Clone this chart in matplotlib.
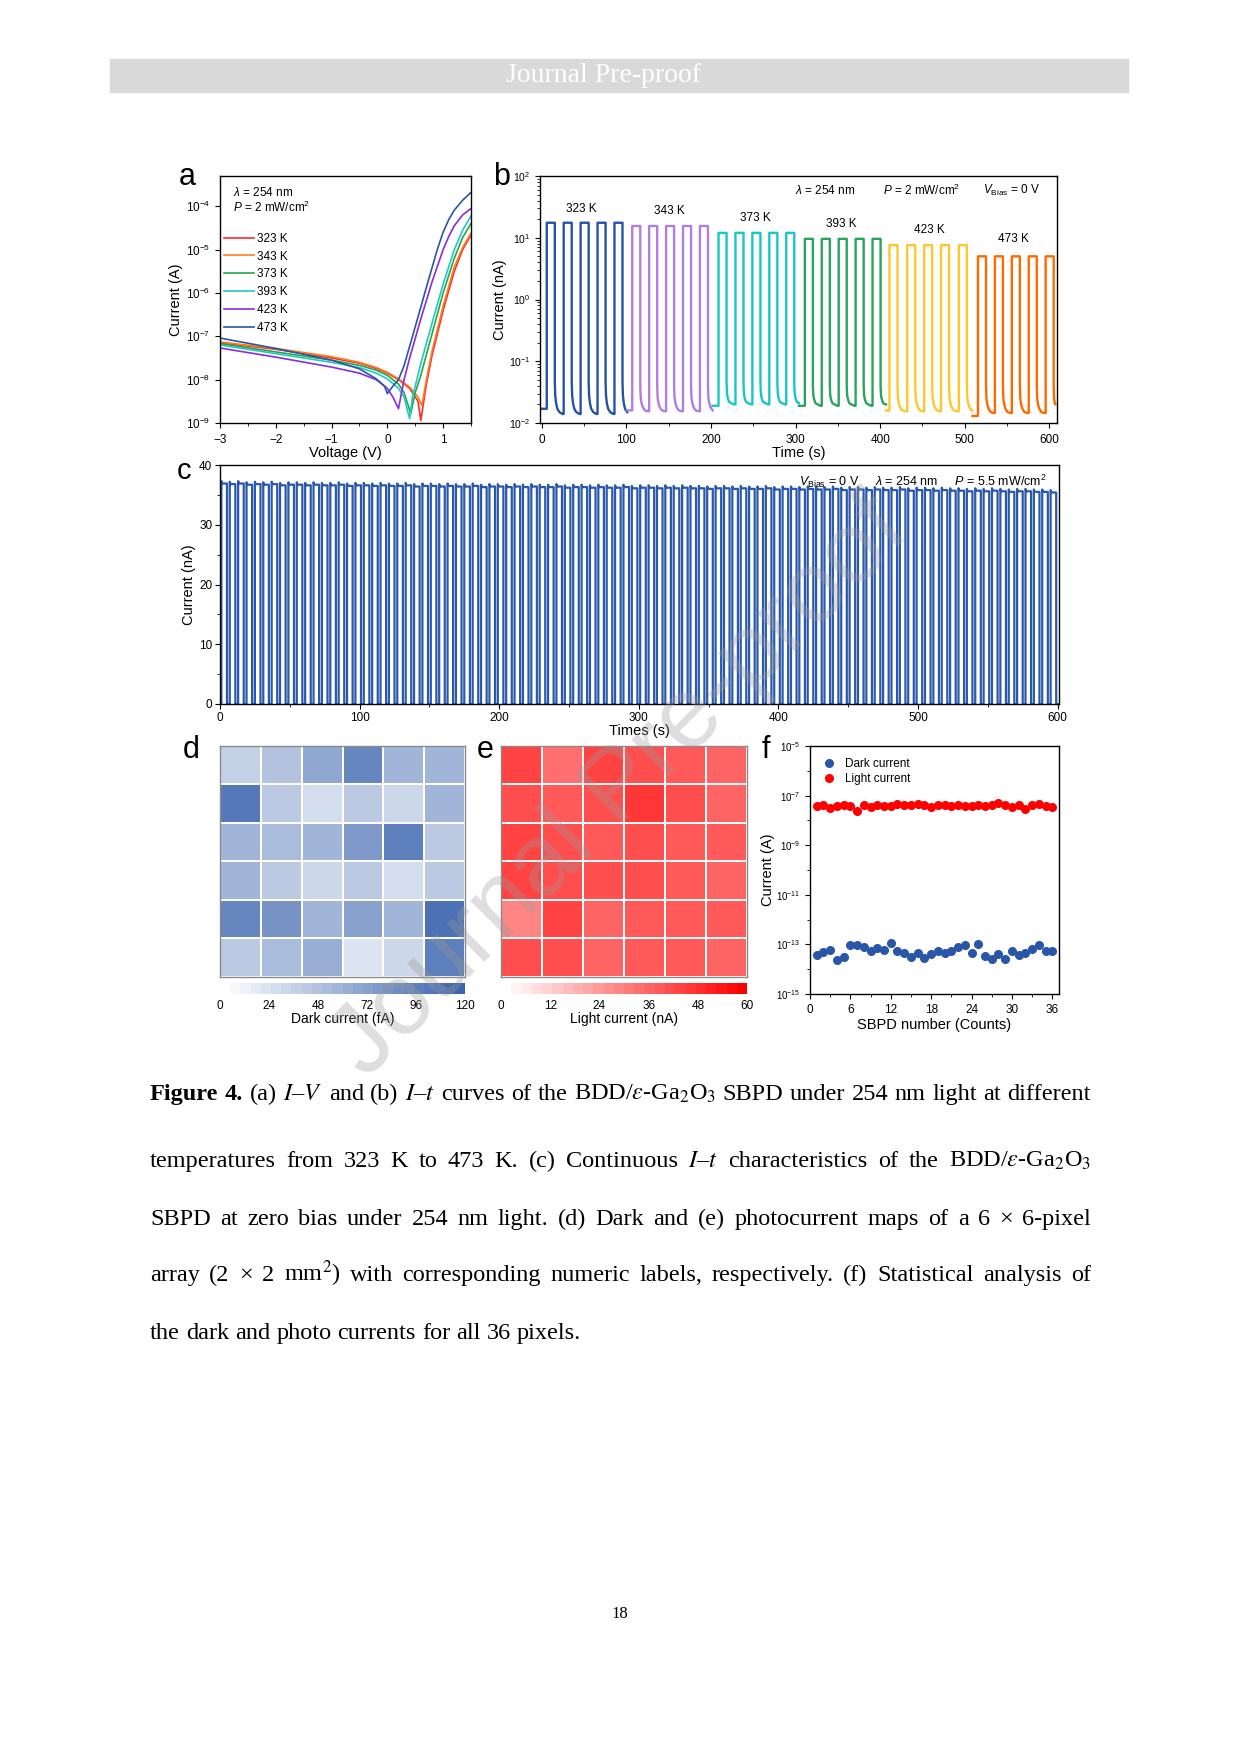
import numpy as np
import matplotlib
matplotlib.use('Agg')
import matplotlib.pyplot as plt
from matplotlib.colors import LinearSegmentedColormap
from matplotlib.patches import Rectangle
import matplotlib.ticker as mticker

plt.rcParams['font.family'] = ['Liberation Sans', 'DejaVu Sans']
plt.rcParams['mathtext.fontset'] = 'custom'
plt.rcParams['mathtext.rm'] = 'Liberation Sans'
plt.rcParams['mathtext.it'] = 'Liberation Sans:italic'
plt.rcParams['mathtext.bf'] = 'Liberation Sans:bold'
plt.rcParams['xtick.direction'] = 'out'
plt.rcParams['ytick.direction'] = 'out'
plt.rcParams['xtick.major.size'] = 3.5
plt.rcParams['ytick.major.size'] = 3.5
plt.rcParams['xtick.minor.size'] = 2
plt.rcParams['ytick.minor.size'] = 2
plt.rcParams['axes.linewidth'] = 1.0

# ---------------- data ----------------
# (a) I-V curves, log10(I / A)
iv_temps = ['323 K', '343 K', '373 K', '393 K', '423 K', '473 K']
iv_colors = ['#ff2a2a', '#ff7b1c', '#22a84b', '#1fc9c9', '#8a2be2', '#2a56a8']
V_323 = [-3, -2, -1, -0.5, -0.2, 0.0, 0.2, 0.4, 0.55, 0.6, 0.7, 0.8, 1.0, 1.1, 1.2, 1.35, 1.5]
I_323 = [-7.15, -7.30, -7.50, -7.62, -7.74, -7.85, -8.00, -8.20, -8.50, -8.94, -8.10, -7.45, -6.40, -5.95, -5.50, -5.00, -4.66]
V_343 = [-3, -2, -1, -0.5, -0.2, 0.0, 0.2, 0.4, 0.55, 0.62, 0.7, 0.8, 1.0, 1.1, 1.2, 1.35, 1.5]
I_343 = [-7.13, -7.28, -7.47, -7.60, -7.72, -7.83, -7.98, -8.17, -8.40, -8.60, -8.00, -7.35, -6.30, -5.85, -5.40, -4.95, -4.62]
V_373 = [-3, -2, -1, -0.5, -0.2, 0.0, 0.2, 0.3, 0.42, 0.5, 0.6, 0.8, 1.0, 1.1, 1.2, 1.35, 1.5]
I_373 = [-7.17, -7.36, -7.55, -7.67, -7.78, -7.90, -8.10, -8.30, -8.78, -8.30, -7.90, -6.95, -6.00, -5.60, -5.20, -4.72, -4.40]
V_393 = [-3, -2, -1, -0.5, -0.2, 0.0, 0.2, 0.3, 0.4, 0.45, 0.5, 0.6, 0.8, 1.0, 1.1, 1.2, 1.35, 1.5]
I_393 = [-7.20, -7.40, -7.60, -7.72, -7.85, -7.98, -8.20, -8.40, -8.90, -8.40, -8.15, -7.63, -6.70, -5.80, -5.40, -5.00, -4.55, -4.22]
V_423 = [-3, -2, -1, -0.5, -0.2, 0.0, 0.1, 0.2, 0.3, 0.4, 0.6, 0.8, 1.0, 1.1, 1.2, 1.35, 1.5]
I_423 = [-7.27, -7.48, -7.71, -7.85, -8.00, -8.20, -8.40, -8.67, -8.00, -7.50, -6.60, -5.75, -5.00, -4.70, -4.45, -4.20, -4.05]
V_473 = [-3, -2, -1, -0.5, -0.2, -0.05, 0.0, 0.1, 0.2, 0.3, 0.5, 0.7, 0.9, 1.0, 1.1, 1.2, 1.35, 1.5]
I_473 = [-7.04, -7.28, -7.55, -7.75, -7.98, -8.15, -8.32, -8.15, -8.00, -7.68, -6.78, -5.87, -4.98, -4.60, -4.31, -4.09, -3.86, -3.68]
iv_V = [V_323, V_343, V_373, V_393, V_423, V_473]
iv_I = [I_323, I_343, I_373, I_393, I_423, I_473]

# (b) temperature-dependent I-t, nA
b_temps = ['323 K', '343 K', '373 K', '393 K', '423 K', '473 K']
b_colors = ['#2453a6', '#b27de0', '#17c6c6', '#2ca25f', '#ffc72c', '#ff6a00']
b_start = [0, 101, 202, 304, 407, 509]
b_end = [101, 202, 304, 407, 509, 607]
b_rise = [[6, 26, 46, 66, 86],
          [107, 127, 147, 167, 187],
          [209, 229, 249, 269, 289],
          [311, 331, 351, 371, 391],
          [411, 432, 452, 472, 493],
          [515.6, 535.6, 555.6, 575.6, 595.6]]
b_width = 9.5
b_on = [17.5, 15.5, 12.0, 9.6, 7.6, 5.0]
b_first_off = [0.017, 0.016, 0.019, 0.019, 0.016, 0.013]
b_tail_dt = [0.0, 0.5, 1.5, 3.0, 5.5, 9.0]
b_tail = [[0.045, 0.028, 0.021, 0.017, 0.015, 0.014],
          [0.040, 0.026, 0.021, 0.018, 0.016, 0.0155],
          [0.045, 0.030, 0.025, 0.022, 0.021, 0.020],
          [0.040, 0.028, 0.024, 0.021, 0.020, 0.019],
          [0.040, 0.026, 0.021, 0.018, 0.016, 0.0155],
          [0.040, 0.025, 0.020, 0.017, 0.015, 0.0145]]
b_label_t = [47, 151, 253, 354, 458, 558]
b_label_y = [29, 27, 21, 17, 13.6, 9.7]

# (c) long-term switching, peak current per cycle (nA)
c_peak = [37.3, 37.2, 37.3, 37.1, 37.2, 37.1, 37.2, 37.0, 37.1, 37.1,
          37.0, 37.1, 37.0, 37.0, 37.1, 36.9, 37.0, 37.0, 36.9, 37.0,
          36.9, 36.9, 37.0, 36.8, 36.9, 36.9, 36.8, 36.9, 36.8, 36.8,
          36.9, 36.7, 36.8, 36.8, 36.7, 36.8, 36.7, 36.8, 36.7, 36.7,
          36.8, 36.6, 36.7, 36.7, 36.6, 36.7, 36.6, 36.6, 36.7, 36.5,
          36.6, 36.6, 36.5, 36.6, 36.5, 36.6, 36.5, 36.5, 36.4, 36.5,
          36.5, 36.4, 36.5, 36.4, 36.4, 36.5, 36.3, 36.4, 36.4, 36.3,
          36.4, 36.3, 36.3, 36.4, 36.2, 36.3, 36.3, 36.2, 36.3, 36.2,
          36.2, 36.3, 36.1, 36.2, 36.2, 36.1, 36.2, 36.1, 36.1, 36.0,
          36.1, 36.0, 36.1, 36.0, 35.9, 36.0, 36.0, 35.9, 35.9, 35.8]
c_first_rise = 1.0
c_period = 6.0
c_on = 4.0
c_dip = 0.4

# (d) dark current map (fA), (e) light current map (nA), rows top to bottom
dark_map = [[35, 45, 65, 90, 58, 58],
            [100, 40, 28, 42, 30, 55],
            [55, 52, 55, 77, 95, 42],
            [55, 40, 33, 42, 28, 41],
            [92, 80, 55, 70, 58, 108],
            [40, 50, 62, 22, 33, 95]]
light_map = [[43.0, 34.0, 43.5, 42.0, 37.6, 35.0],
             [40.0, 39.0, 40.0, 46.0, 40.0, 36.5],
             [43.5, 40.0, 37.6, 41.0, 37.6, 37.6],
             [44.7, 41.0, 42.0, 42.0, 39.0, 35.0],
             [28.0, 43.5, 35.0, 39.0, 37.6, 37.6],
             [40.0, 41.0, 35.0, 39.0, 37.6, 35.0]]
dark_ticks = [0, 24, 48, 72, 96, 120]
light_ticks = [0, 12, 24, 36, 48, 60]

# (f) statistics of the 36 pixels (A)
pixel_no = list(range(1, 37))
dark_cur = [3.6e-14, 4.9e-14, 5.9e-14, 2.3e-14, 3.2e-14, 9.1e-14, 9.1e-14, 7.8e-14, 5.4e-14, 6.9e-14,
            5.9e-14, 1.17e-13, 5.4e-14, 4.4e-14, 3.2e-14, 4.6e-14, 2.8e-14, 4.1e-14, 5.6e-14, 4.6e-14,
            5.4e-14, 7.6e-14, 9.7e-14, 4.4e-14, 1.0e-13, 3.4e-14, 2.7e-14, 4.0e-14, 2.5e-14, 5.4e-14,
            3.6e-14, 4.4e-14, 6.3e-14, 9.1e-14, 5.4e-14, 5.4e-14]
light_cur = [3.9e-8, 4.2e-8, 3.1e-8, 3.9e-8, 4.1e-8, 3.8e-8, 2.5e-8, 4.2e-8, 3.4e-8, 4.1e-8,
             3.7e-8, 3.9e-8, 4.8e-8, 4.2e-8, 4.1e-8, 4.4e-8, 4.2e-8, 3.4e-8, 4.2e-8, 4.0e-8,
             3.8e-8, 4.3e-8, 3.9e-8, 3.7e-8, 4.0e-8, 3.8e-8, 4.2e-8, 4.9e-8, 4.1e-8, 3.6e-8,
             4.3e-8, 3.0e-8, 4.2e-8, 4.6e-8, 3.7e-8, 3.6e-8]

caption_lines = [
    r"Figure 4. (a) $I$–$V$ and (b) $I$–$t$ curves of the BDD/$\varepsilon$-Ga$_2$O$_3$ SBPD under 254 nm light at different",
    r"temperatures from 323 K to 473 K. (c) Continuous $I$–$t$ characteristics of the BDD/$\varepsilon$-Ga$_2$O$_3$",
    "SBPD at zero bias under 254 nm light. (d) Dark and (e) photocurrent maps of a 6 × 6-pixel",
    r"array (2 × 2 mm$^2$) with corresponding numeric labels, respectively. (f) Statistical analysis of",
    "the dark and photo currents for all 36 pixels.",
]

# ---------------- figure ----------------
W, H = 1241, 1754
fig = plt.figure(figsize=(W / 100, H / 100), dpi=100)


def rect(x0, y0, x1, y1):
    return [x0 / W, 1 - y1 / H, (x1 - x0) / W, (y1 - y0) / H]


def fx(x):
    return x / W


def fy(y):
    return 1 - y / H


# header bar
fig.patches.append(Rectangle((fx(110), fy(92)), (1128 - 110) / W, 33 / H,
                             transform=fig.transFigure, color='#d9d9d9', zorder=0))
fig.text(fx(603), fy(76), 'Journal Pre-proof', color='white', fontsize=20,
         family='Liberation Serif', ha='center', va='center')

# panel letters
for lab, x, y, fs in [('a', 187, 177, 22), ('b', 502, 177, 22), ('c', 184, 471, 21),
                      ('d', 191, 750, 22), ('e', 485, 750, 22), ('f', 766, 750, 22)]:
    fig.text(fx(x), fy(y), lab, fontsize=fs, ha='center', va='center')

# ---- (a)
ax_a = fig.add_axes(rect(220, 176, 471, 423))
for v, i, c, lab in zip(iv_V, iv_I, iv_colors, iv_temps):
    ax_a.plot(v, 10 ** np.array(i), color=c, lw=1.2, label=lab)
ax_a.set_yscale('log')
ax_a.set_xlim(-3, 1.5)
ax_a.set_ylim(1e-9, 5e-4)
ax_a.set_xticks([-3, -2, -1, 0, 1])
ax_a.set_yticks([1e-9, 1e-8, 1e-7, 1e-6, 1e-5, 1e-4])
ax_a.xaxis.set_minor_locator(mticker.MultipleLocator(0.5))
ax_a.yaxis.set_minor_locator(mticker.NullLocator())
ax_a.tick_params(labelsize=8.5)
ax_a.tick_params(axis='x', pad=4.5)
ax_a.set_xlabel('Voltage (V)', fontsize=10.5, labelpad=0)
ax_a.set_ylabel('Current (A)', fontsize=10.5, labelpad=2)
ax_a.text(0.05, 0.935, r'$\lambda$ = 254 nm', transform=ax_a.transAxes, fontsize=8.5, va='center')
ax_a.text(0.05, 0.872, r'$P$ = 2 mW/cm$^2$', transform=ax_a.transAxes, fontsize=8.5, va='center')
ax_a.legend(loc='upper left', bbox_to_anchor=(0.0, 0.785), frameon=False, fontsize=8.5,
            handlelength=2.6, handletextpad=0.25, labelspacing=0.5, borderaxespad=0, borderpad=0.3)

# ---- (b)
ax_b = fig.add_axes(rect(540, 176, 1057, 423))
for i in range(6):
    t = [b_start[i]]
    y = [b_first_off[i]]
    for r in b_rise[i]:
        t += [r, r, r + b_width]
        y += [y[-1], b_on[i], b_on[i]]
        for dt, val in zip(b_tail_dt, b_tail[i]):
            t.append(r + b_width + dt)
            y.append(val)
    t = np.array(t)
    y = np.array(y)
    keep = t <= b_end[i]
    t = np.append(t[keep], b_end[i])
    y = np.append(y[keep], y[keep][-1])
    ax_b.plot(t, y, color=b_colors[i], lw=1.7)
    ax_b.text(b_label_t[i], b_label_y[i], b_temps[i], fontsize=8.5, ha='center', va='center')
ax_b.set_yscale('log')
ax_b.set_xlim(-2, 609)
ax_b.set_ylim(1e-2, 1e2)
ax_b.set_xticks([0, 100, 200, 300, 400, 500, 600])
ax_b.set_yticks([1e-2, 1e-1, 1e0, 1e1, 1e2])
ax_b.yaxis.set_minor_formatter(mticker.NullFormatter())
ax_b.xaxis.set_minor_locator(mticker.MultipleLocator(50))
ax_b.tick_params(axis='x', labelsize=8.5, pad=4.5)
ax_b.tick_params(axis='y', labelsize=7.5)
ax_b.set_xlabel('Time (s)', fontsize=10.5, labelpad=0)
ax_b.set_ylabel('Current (nA)', fontsize=10.5, labelpad=1)
ax_b.text(0.493, 0.94, r'$\lambda$ = 254 nm', transform=ax_b.transAxes, fontsize=8.5, va='center')
ax_b.text(0.663, 0.94, r'$P$ = 2 mW/cm$^2$', transform=ax_b.transAxes, fontsize=8.5, va='center')
ax_b.text(0.857, 0.94, r'$V_{\rm Bias}$ = 0 V', transform=ax_b.transAxes, fontsize=8.5, va='center')

# ---- (c)
ax_c = fig.add_axes(rect(220, 465, 1059, 704))
tc = [0.0]
yc = [0.0]
for k, p in enumerate(c_peak):
    r = c_first_rise + k * c_period
    tc += [r, r, r + 0.6, r + c_on, r + c_on]
    yc += [0.0, p, p - c_dip, p - c_dip, 0.0]
tc.append(601)
yc.append(0.0)
ax_c.plot(tc, yc, color='#2a58ad', lw=1.6)
ax_c.set_xlim(0, 601)
ax_c.set_ylim(0, 40)
ax_c.set_xticks([0, 100, 200, 300, 400, 500, 600])
ax_c.xaxis.set_minor_locator(mticker.MultipleLocator(50))
ax_c.set_yticks([0, 10, 20, 30, 40])
ax_c.yaxis.set_minor_locator(mticker.MultipleLocator(5))
ax_c.tick_params(labelsize=8.5, pad=2)
ax_c.set_xlabel('Times (s)', fontsize=10.5, labelpad=0)
ax_c.set_ylabel('Current (nA)', fontsize=10.5, labelpad=2)
ax_c.text(0.985, 0.93, r'$V_{\rm Bias}$ = 0 V     $\lambda$ = 254 nm     $P$ = 5.5 mW/cm$^2$',
          transform=ax_c.transAxes, fontsize=9, ha='right', va='center')

# ---- (d), (e)
cmap_d = LinearSegmentedColormap.from_list('dk', ['#ffffff', '#3b64ad'], N=24)
cmap_e = LinearSegmentedColormap.from_list('lt', ['#ffffff', '#ff0000'], N=24)
for box, cbox, data, cmap, vmax, ticks, label in [
        ((220, 746, 465, 977), (220, 983, 465, 994), dark_map, cmap_d, 120, dark_ticks, 'Dark current (fA)'),
        ((501, 746, 747, 977), (501, 983, 747, 994), light_map, cmap_e, 60, light_ticks, 'Light current (nA)')]:
    ax = fig.add_axes(rect(*box))
    m = ax.pcolormesh(np.arange(7), np.arange(7), np.array(data), cmap=cmap, vmin=0, vmax=vmax,
                      edgecolors='white', linewidth=1.3)
    ax.set_xlim(0, 6)
    ax.set_ylim(6, 0)
    ax.set_xticks([])
    ax.set_yticks([])
    for s in ax.spines.values():
        s.set_color('#8a8a8a')
    cax = fig.add_axes(rect(*cbox))
    cb = fig.colorbar(m, cax=cax, orientation='horizontal', ticks=ticks)
    cb.outline.set_visible(False)
    cax.tick_params(length=0, labelsize=8.5, pad=4)
    cb.set_label(label, fontsize=10, labelpad=0)

# ---- (f)
ax_f = fig.add_axes(rect(810, 746, 1059, 994))
ax_f.plot(pixel_no, dark_cur, 'o', color='#2a56a8', ms=5.5, label='Dark current')
ax_f.plot(pixel_no, light_cur, 'o', color='#ff0000', ms=5.5, label='Light current')
ax_f.set_yscale('log')
ax_f.set_xlim(0, 37)
ax_f.set_ylim(1e-15, 1e-5)
ax_f.set_xticks([0, 6, 12, 18, 24, 30, 36])
ax_f.xaxis.set_minor_locator(mticker.MultipleLocator(3))
ax_f.set_yticks([1e-15, 1e-13, 1e-11, 1e-9, 1e-7, 1e-5])
ax_f.yaxis.set_minor_locator(mticker.FixedLocator([10.0 ** e for e in range(-14, -5, 2)]))
ax_f.yaxis.set_minor_formatter(mticker.NullFormatter())
ax_f.tick_params(axis='x', labelsize=8.5, pad=4)
ax_f.tick_params(axis='y', labelsize=7)
ax_f.set_xlabel('SBPD number (Counts)', fontsize=10.5, labelpad=1)
ax_f.set_ylabel('Current (A)', fontsize=10.5, labelpad=1)
ax_f.legend(loc='upper left', frameon=False, fontsize=8.5, handletextpad=0.8,
            labelspacing=0.25, borderaxespad=0.6, handlelength=1.2)

# watermark
fig.text(fx(621), fy(789), 'Journal Pre-proof', fontsize=72, rotation=45, color='#9a9a9a',
         alpha=0.33, ha='center', va='center', zorder=20)

# caption, justified
renderer = fig.canvas.get_renderer()
cap_size = 17.5
cap_x0, cap_x1 = 150, 1091
cap_base = [1100, 1167, 1225, 1281, 1339]
for li, (line, yb) in enumerate(zip(caption_lines, cap_base)):
    words = line.split(' ')
    texts = []
    for wi, w in enumerate(words):
        bold = (li == 0 and wi < 2)
        t = fig.text(0, fy(yb), w, fontsize=cap_size, family='Liberation Serif',
                     weight='bold' if bold else 'normal', math_fontfamily='stix', va='baseline')
        texts.append(t)
    widths = [t.get_window_extent(renderer).width for t in texts]
    if li < len(caption_lines) - 1:
        gap = (cap_x1 - cap_x0 - sum(widths)) / (len(words) - 1)
    else:
        gap = cap_size * 1.389 * 0.25
    x = cap_x0
    for t, wdt in zip(texts, widths):
        t.set_x(fx(x))
        x += wdt + gap

fig.text(fx(620), fy(1614), '18', fontsize=12, family='Liberation Serif', ha='center', va='center')

fig.savefig('out.png', dpi=100)
